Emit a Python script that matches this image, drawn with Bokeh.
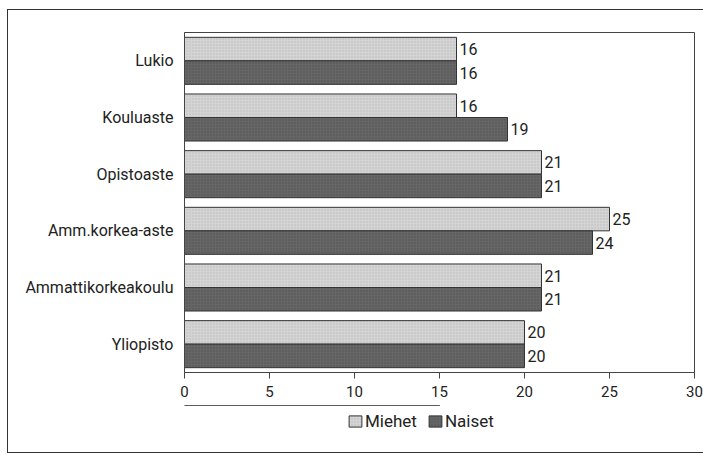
from bokeh.plotting import figure
from bokeh.models import ColumnDataSource, FactorRange, Legend, LegendItem, FixedTicker, LabelSet
from bokeh.core.properties import value
from bokeh.layouts import column
from bokeh.transform import dodge
from bokeh.embed import file_html
from bokeh.resources import INLINE

categories = ["Lukio", "Kouluaste", "Opistoaste", "Amm.korkea-aste", "Ammattikorkeakoulu", "Yliopisto"]
miehet = [16, 16, 21, 25, 21, 20]
naiset = [16, 19, 21, 24, 21, 20]
x_ticks = [0, 5, 10, 15, 20, 25, 30]
series_names = ["Miehet", "Naiset"]

FONT = "Roboto"
M_STYLE = dict(fill_color="#d4d4d4", line_color="#333333", line_width=1,
               hatch_pattern=".", hatch_color="#aaaaaa", hatch_scale=3, hatch_alpha=0.6)
N_STYLE = dict(fill_color="#666666", line_color="#333333", line_width=1,
               hatch_pattern=".", hatch_color="#404040", hatch_scale=3, hatch_alpha=0.6)

src = ColumnDataSource(dict(cat=categories, m=miehet, n=naiset,
                            ml=[str(v) for v in miehet], nl=[str(v) for v in naiset]))

p = figure(width=695, height=395, output_backend="svg", toolbar_location=None,
           y_range=FactorRange(factors=list(reversed(categories)), range_padding=0),
           x_range=(0, 30), min_border_left=176, min_border_right=9,
           min_border_top=22, min_border_bottom=33)

bh = 0.415
p.hbar(y=dodge("cat", bh / 2, range=p.y_range), right="m", left=0, height=bh, source=src, **M_STYLE)
p.hbar(y=dodge("cat", -bh / 2, range=p.y_range), right="n", left=0, height=bh, source=src, **N_STYLE)

for col, lab, off in (("m", "ml", bh / 2), ("n", "nl", -bh / 2)):
    ls = LabelSet(x=col, y=dodge("cat", off, range=p.y_range), text=lab, source=src,
                  x_offset=3, text_baseline="middle", text_font=value(FONT),
                  text_font_size="16px", text_color="#222222")
    p.add_layout(ls)

p.xaxis.ticker = FixedTicker(ticks=x_ticks)
p.xaxis.minor_tick_line_color = None
p.xaxis.major_tick_out = 6
p.xaxis.major_tick_in = 0
p.xaxis.axis_line_color = "#444444"
p.xaxis.major_tick_line_color = "#444444"
p.xaxis.major_label_text_font = FONT
p.xaxis.major_label_text_font_size = "15px"
p.xaxis.major_label_text_color = "#222222"
p.xaxis.major_label_standoff = 7

p.yaxis.major_tick_line_color = None
p.yaxis.minor_tick_line_color = None
p.yaxis.axis_line_color = "#444444"
p.yaxis.major_label_text_font = FONT
p.yaxis.major_label_text_font_size = "16px"
p.yaxis.major_label_text_color = "#222222"
p.yaxis.major_label_standoff = 5

p.xgrid.grid_line_color = None
p.ygrid.grid_line_color = None
p.outline_line_color = "#444444"
p.outline_line_width = 1

# legend strip below the chart
p2 = figure(width=695, height=47, output_backend="svg", toolbar_location=None,
            x_range=(0, 1), y_range=(0, 1), min_border=0)
p2.axis.visible = False
p2.grid.grid_line_color = None
p2.outline_line_color = None
offscreen = ColumnDataSource(dict(y=[5], right=[0.5]))
lm = p2.hbar(y="y", right="right", left=0, height=0.5, source=offscreen, **M_STYLE)
ln = p2.hbar(y="y", right="right", left=0, height=0.5, source=offscreen, **N_STYLE)
legend = Legend(items=[LegendItem(label=series_names[0], renderers=[lm]),
                       LegendItem(label=series_names[1], renderers=[ln])],
                orientation="horizontal", location=(163, 21),
                label_text_font=FONT, label_text_font_size="17px", label_text_color="#222222",
                glyph_width=16, glyph_height=14, label_standoff=2, spacing=10,
                padding=0, margin=0, border_line_color=None, background_fill_alpha=0)
p2.add_layout(legend, "center")

layout = column(p, p2, spacing=0)
layout.margin = (10, 0, 0, 8)
layout.styles = {"outline": "1.5px solid #333"}

open("out.html", "w").write(file_html(layout, INLINE))
